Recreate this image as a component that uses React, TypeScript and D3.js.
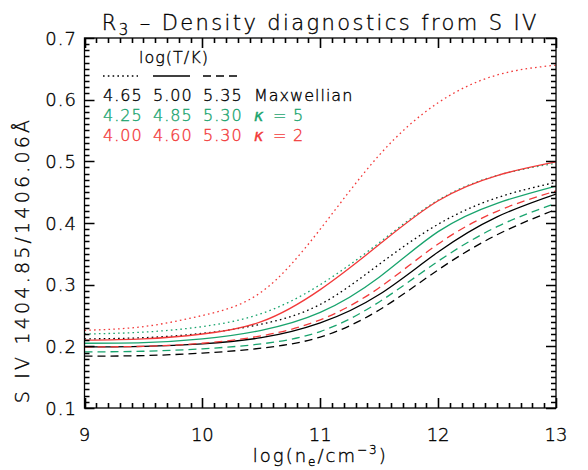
import React from "react";
import * as d3 from "d3";

// log10 electron density grid (cm^-3)
const logNe = [9, 9.5, 10, 10.5, 11, 11.5, 12, 12.5, 13];

// S IV 1404.85/1406.06 ratio curves
const maxw465 = [0.212, 0.214, 0.221, 0.236, 0.268, 0.333, 0.398, 0.441, 0.466];
const maxw500 = [0.199, 0.2, 0.204, 0.214, 0.238, 0.284, 0.353, 0.41, 0.447];
const maxw535 = [0.184, 0.185, 0.189, 0.197, 0.215, 0.259, 0.324, 0.381, 0.422];
const kappa5_425 = [0.22, 0.223, 0.232, 0.253, 0.3, 0.368, 0.437, 0.477, 0.497];
const kappa5_485 = [0.205, 0.206, 0.212, 0.226, 0.255, 0.312, 0.386, 0.432, 0.46];
const kappa5_530 = [0.191, 0.192, 0.196, 0.204, 0.224, 0.272, 0.338, 0.394, 0.432];
const kappa2_400 = [0.226, 0.232, 0.25, 0.288, 0.39, 0.51, 0.595, 0.64, 0.656];
const kappa2_460 = [0.21, 0.212, 0.22, 0.24, 0.292, 0.365, 0.436, 0.477, 0.499];
const kappa2_530 = [0.199, 0.2, 0.205, 0.217, 0.243, 0.295, 0.366, 0.419, 0.452];

const xTicks = [9, 10, 11, 12, 13];
const yTicks = [0.1, 0.2, 0.3, 0.4, 0.5, 0.6, 0.7];

const BLACK = "#000000";
const GREEN = "#19a46e";
const RED = "#f23a3a";
const DOT = "1.6 3.2";
const DASH = "8 5";

const series = [
  { values: kappa2_400, color: RED, dash: DOT },
  { values: kappa5_425, color: GREEN, dash: DOT },
  { values: maxw465, color: BLACK, dash: DOT },
  { values: kappa2_460, color: RED, dash: null },
  { values: kappa5_485, color: GREEN, dash: null },
  { values: maxw500, color: BLACK, dash: null },
  { values: kappa2_530, color: RED, dash: DASH },
  { values: kappa5_530, color: GREEN, dash: DASH },
  { values: maxw535, color: BLACK, dash: DASH },
];

const legendRows = [
  { temps: ["4.65", "5.00", "5.35"], label: "Maxwellian", color: BLACK, kappa: "" },
  { temps: ["4.25", "4.85", "5.30"], label: "", color: GREEN, kappa: "5" },
  { temps: ["4.00", "4.60", "5.30"], label: "", color: RED, kappa: "2" },
];

const FONT = "'DejaVu Sans', sans-serif";
const TXT = { fontFamily: FONT, fontWeight: 200, strokeWidth: 0.35 };

const LEFT = 84.5;
const RIGHT = 556;
const TOP = 38;
const BOTTOM = 408;

const x = d3.scaleLinear().domain([9, 13]).range([LEFT, RIGHT]);
const y = d3.scaleLinear().domain([0.1, 0.7]).range([BOTTOM, TOP]);

const xMinor = d3.range(90, 131).filter((v) => v % 10 !== 0).map((v) => v / 10);
const yMinor = d3.range(10, 71).filter((v) => v % 10 !== 0).map((v) => v / 100);

const MAJOR = 10;
const MINOR = 5;

export default function App() {
  const line = d3
    .line<[number, number]>()
    .x((d) => x(d[0]))
    .y((d) => y(d[1]))
    .curve(d3.curveNatural);

  const xt = (vals: number[], len: number) =>
    vals.map((v) => {
      const px = Math.round(x(v)) + 0.5;
      return `M${px},${BOTTOM}L${px},${BOTTOM - len}M${px},${TOP}L${px},${TOP + len}`;
    }).join("");
  const yt = (vals: number[], len: number) =>
    vals.map((v) => {
      const py = Math.round(y(v)) + 0.5;
      return `M${LEFT},${py}L${LEFT + len},${py}M${RIGHT},${py}L${RIGHT - len},${py}`;
    }).join("");

  return (
    <svg width={588} height={470} style={{ position: "absolute", left: 0, top: 0, background: "#fff" }}>
      <rect x={0} y={0} width={588} height={470} fill="#fff" />
      <defs>
        <clipPath id="plotClip">
          <rect x={LEFT} y={TOP} width={RIGHT - LEFT} height={BOTTOM - TOP} />
        </clipPath>
      </defs>

      {/* title */}
      <text x={(LEFT + RIGHT) / 2} y={30} textAnchor="middle" {...TXT} fontSize={21} letterSpacing={2.4} fill="#000" stroke="#000">
        R<tspan fontSize={15} dy={5}>3</tspan>
        <tspan dy={-5}> {"\u2013"} Density diagnostics from S IV</tspan>
      </text>

      {/* curves */}
      <g clipPath="url(#plotClip)">
        {series.map((s, i) => (
          <path
            key={i}
            d={line(logNe.map((v, j) => [v, s.values[j]]) as [number, number][]) || ""}
            fill="none"
            stroke={s.color}
            strokeWidth={1.3}
            strokeDasharray={s.dash || undefined}
          />
        ))}
      </g>

      {/* frame and inward tick marks */}
      <rect x={LEFT} y={TOP} width={RIGHT - LEFT} height={BOTTOM - TOP} fill="none" stroke="#000" strokeWidth={1.3} />
      <path d={xt(xTicks, MAJOR) + yt(yTicks, MAJOR)} fill="none" stroke="#000" strokeWidth={1.6} />
      <path d={xt(xMinor, MINOR) + yt(yMinor, MINOR)} fill="none" stroke="#000" strokeWidth={1.6} />

      {/* tick labels */}
      {xTicks.map((v) => (
        <text key={"xl" + v} x={x(v)} y={441} textAnchor="middle" {...TXT} fontSize={18} fill="#000" stroke="#000">
          {v}
        </text>
      ))}
      {yTicks.map((v) => (
        <text key={"ylab" + v} x={77} y={y(v) + 6.5} textAnchor="end" {...TXT} fontSize={18} letterSpacing={1} fill="#000" stroke="#000">
          {v.toFixed(1)}
        </text>
      ))}

      {/* axis titles */}
      <text x={(LEFT + RIGHT) / 2} y={462} textAnchor="middle" {...TXT} fontSize={18} letterSpacing={2} fill="#000" stroke="#000">
        log(n<tspan fontSize={12} dy={4}>e</tspan>
        <tspan dy={-4}>/cm</tspan>
        <tspan fontSize={12} dy={-8}>{"\u22123"}</tspan>
        <tspan dy={8}>)</tspan>
      </text>
      <text
        transform={`translate(29, 260) rotate(-90)`}
        textAnchor="middle"
        {...TXT}
        fontSize={19}
        letterSpacing={3.2}
        fill="#000"
        stroke="#000"
      >
        S IV 1404.85/1406.06Å
      </text>

      {/* legend */}
      <text x={174} y={63} textAnchor="middle" {...TXT} fontSize={16} letterSpacing={1} fill="#000" stroke="#000">
        log(T/K)
      </text>
      <line x1={103} x2={138} y1={76} y2={76} stroke="#000" strokeWidth={1.3} strokeDasharray={DOT} />
      <line x1={153} x2={190} y1={76} y2={76} stroke="#000" strokeWidth={1.3} />
      <line x1={203} x2={240} y1={76} y2={76} stroke="#000" strokeWidth={1.3} strokeDasharray={DASH} />
      {legendRows.map((r, i) => (
        <g key={"lr" + i} {...TXT} fontSize={16} letterSpacing={1} fill={r.color} stroke={r.color}>
          {r.temps.map((t, j) => (
            <text key={j} x={103 + j * 50} y={101 + i * 20}>
              {t}
            </text>
          ))}
          {r.kappa ? (
            <text x={254} y={101 + i * 20}>
              <tspan fontStyle="italic">{"\u03BA"}</tspan>
              <tspan x={273}>=</tspan>
              <tspan x={293}>{r.kappa}</tspan>
            </text>
          ) : (
            <text x={254} y={101 + i * 20}>
              {r.label}
            </text>
          )}
        </g>
      ))}
    </svg>
  );
}
